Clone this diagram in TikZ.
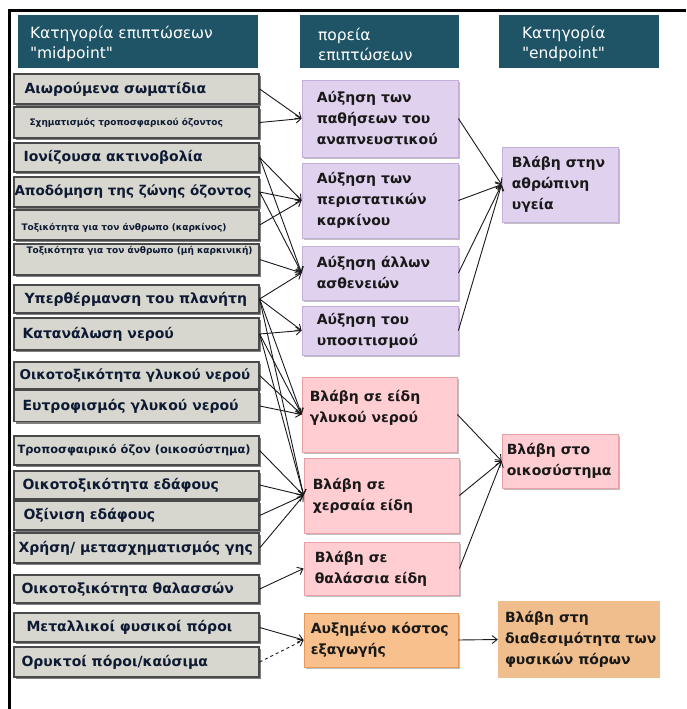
\documentclass[tikz,border=0pt]{standalone}
\usepackage{fontspec}
\setmainfont[Ligatures=TeXOff]{DejaVu Sans}
\usetikzlibrary{arrows.meta,shadows}

\definecolor{headfill}{HTML}{1F5466}
\definecolor{leftfill}{HTML}{D7D7CF}
\definecolor{leftdraw}{HTML}{4A4A4A}
\definecolor{lefttext}{HTML}{0E1A33}
\definecolor{purplefill}{HTML}{E0D2EE}
\definecolor{purpledraw}{HTML}{C4AEDB}
\definecolor{pinkfill}{HTML}{FFCDD2}
\definecolor{pinkdraw}{HTML}{E8A0A4}
\definecolor{orangefill}{HTML}{F8C08C}
\definecolor{orangedraw}{HTML}{E6975A}
\definecolor{resfill}{HTML}{F0BE8C}

\tikzset{
  headbox/.style={fill=headfill, draw=none, inner sep=0pt},
  headtxt/.style={text=white, font=\fontsize{15.5}{20}\selectfont,
    align=left, anchor=west, inner sep=0pt, yshift=-2.5pt},
  leftbox/.style={fill=leftfill, draw=leftdraw, line width=1.3pt,
    minimum width=245pt, inner sep=0pt,
    drop shadow={shadow xshift=1.5pt, shadow yshift=-2pt, opacity=0.5, fill=black}},
  lefttxt/.style={text=lefttext, anchor=west, inner sep=0pt, align=left},
  bigtxt/.style={font=\fontsize{14}{16}\selectfont\bfseries},
  bigtxtn/.style={font=\fontsize{13.5}{16}\selectfont\bfseries},
  midtxtsize/.style={font=\fontsize{11.4}{13}\selectfont\bfseries},
  smalltxt/.style={font=\fontsize{9}{11}\selectfont\bfseries},
  midbox/.style={line width=0.8pt, inner sep=0pt,
    drop shadow={shadow xshift=1.5pt, shadow yshift=-1.5pt, opacity=0.25, fill=black}},
  purplebox/.style={midbox, fill=purplefill, draw=purpledraw},
  pinkbox/.style={midbox, fill=pinkfill, draw=pinkdraw},
  orangebox/.style={midbox, fill=orangefill, draw=orangedraw},
  resbox/.style={fill=resfill, draw=none, inner sep=0pt},
  boxtxt/.style={text=black!90, anchor=west, inner sep=0pt, align=left,
    font=\fontsize{14}{21}\selectfont\bfseries},
  arr/.style={draw=black!90, line width=0.9pt,
    -{Straight Barb[length=5pt,width=8pt]}},
}

% one grey impact-category box with its label
% #1 name, #2 centre y, #3 height, #4 label indent, #5 label style, #6 label
\newcommand\leftitem[6]{%
  \node[leftbox, minimum height=#3] (#1) at (136.5,#2) {};
  \node[lefttxt, #5] (#1t) at ([xshift=#4]#1.west) {#6};}

\begin{document}
\begin{tikzpicture}[x=1pt, y=-1pt]
\useasboundingbox (0,0) rectangle (686,709);
\fill[white] (0,0) rectangle (686,709);

% outer frame (top and left edges)
\draw[line width=3pt] (9.5,709) -- (9.5,11) -- (686,11);

% column headers
\node[headbox, minimum width=240, minimum height=53] (h1) at (138,41.5) {};
\node[headtxt] (h1t) at ([xshift=12]h1.west) {Κατηγορία επιπτώσεων\\"midpoint"};
\node[headbox, minimum width=159, minimum height=53] (h2) at (379.5,41.5) {};
\node[headtxt] (h2t) at ([xshift=18]h2.west) {πορεία\\επιπτώσεων};
\node[headbox, minimum width=160, minimum height=53] (h3) at (579,41.5) {};
\node[headtxt] (h3t) at ([xshift=23]h3.west) {Κατηγορία\\"endpoint"};

% midpoint impact categories
\leftitem{m1}{89}{30}{11}{bigtxt}{Αιωρούμενα σωματίδια}
\leftitem{m2}{122.5}{31}{16}{smalltxt}{Σχηματισμός τροποσφαρικού όζοντος}
\leftitem{m3}{157.5}{29}{10}{bigtxt}{Ιονίζουσα ακτινοβολία}
\leftitem{m4}{192}{30}{1}{bigtxtn}{Αποδόμηση της ζώνης όζοντος}
\leftitem{m5}{225}{30}{8}{smalltxt, yshift=-3}{Τοξικότητα για τον άνθρωπο (καρκίνος)}
\leftitem{m6}{259.5}{31}{13}{smalltxt, yshift=9}{Τοξικότητα για τον άνθρωπο (μή καρκινική)}
\leftitem{m7}{299}{28}{11}{bigtxt}{Υπερθέρμανση του πλανήτη}
\leftitem{m8}{334}{32}{9}{bigtxt}{Κατανάλωση νερού}
\leftitem{m9}{375.5}{27}{6}{bigtxtn}{Οικοτοξικότητα γλυκού νερού}
\leftitem{m10}{406}{31}{9}{bigtxt}{Ευτροφισμός γλυκού νερού}
\leftitem{m11}{450.5}{29}{4}{midtxtsize}{Τροποσφαιρικό όζον (οικοσύστημα)}
\leftitem{m12}{485}{28}{9}{bigtxt}{Οικοτοξικότητα εδάφους}
\leftitem{m13}{515.5}{29}{10}{bigtxt}{Οξίνιση εδάφους}
\leftitem{m14}{548}{30}{5}{bigtxt}{Χρήση/ μετασχηματισμός γης}
\leftitem{m15}{589}{28}{8}{bigtxt}{Οικοτοξικότητα θαλασσών}
\leftitem{m16}{627.5}{29}{13}{bigtxt}{Μεταλλικοί φυσικοί πόροι}
\leftitem{m17}{662}{30}{8}{bigtxt}{Ορυκτοί πόροι/καύσιμα}

% damage pathways
\node[purplebox, minimum width=156, minimum height=77] (p1) at (380,118.5) {};
\node[boxtxt] (p1t) at ([xshift=15]p1.west) {Αύξηση των\\παθήσεων του\\αναπνευστικού};
\node[purplebox, minimum width=156, minimum height=75] (p2) at (380,200.5) {};
\node[boxtxt] (p2t) at ([xshift=15]p2.west) {Αύξηση των\\περιστατικών\\καρκίνου};
\node[purplebox, minimum width=156, minimum height=54] (p3) at (380,273) {};
\node[boxtxt] (p3t) at ([xshift=15]p3.west) {Αύξηση άλλων\\ασθενειών};
\node[purplebox, minimum width=156, minimum height=49] (p4) at (380,330.5) {};
\node[boxtxt] (p4t) at ([xshift=15]p4.west) {Αύξηση του\\υποσιτισμού};

\node[pinkbox, minimum width=155, minimum height=75] (r1) at (379.5,414.5) {};
\node[boxtxt, yshift=7] (r1t) at ([xshift=8]r1.west) {Βλάβη σε είδη\\γλυκού νερού};
\node[pinkbox, minimum width=155, minimum height=75] (r2) at (381.5,495.5) {};
\node[boxtxt] (r2t) at ([xshift=9]r2.west) {Βλάβη σε\\χερσαία είδη};
\node[pinkbox, minimum width=155, minimum height=53] (r3) at (381.5,568.5) {};
\node[boxtxt] (r3t) at ([xshift=11]r3.west) {Βλάβη σε\\θαλάσσια είδη};

\node[orangebox, minimum width=154, minimum height=54] (o1) at (381,640) {};
\node[boxtxt] (o1t) at ([xshift=7]o1.west) {Αυξημένο κόστος\\εξαγωγής};

% endpoint categories
\node[purplebox, minimum width=116, minimum height=75] (e1) at (560,184.5) {};
\node[boxtxt] (e1t) at ([xshift=10]e1.west) {Βλάβη στην\\αθρώπινη\\υγεία};
\node[pinkbox, minimum width=116, minimum height=54] (e2) at (560,461) {};
\node[boxtxt] (e2t) at ([xshift=5]e2.west) {Βλάβη στο\\οικοσύστημα};
\node[resbox, minimum width=162, minimum height=77] (e3) at (579,639.5) {};
\node[boxtxt] (e3t) at ([xshift=7]e3.west) {Βλάβη στη\\διαθεσιμότητα των\\φυσικών πόρων};

% midpoint -> pathway
\draw[arr] (m1.east) -- (p1.west);
\draw[arr] (m2.east) -- (p1.west);
\draw[arr] (m3.east) -- (p2.west);
\draw[arr] (m3.east) -- (p3.west);
\draw[arr] (m4.east) -- (p2.west);
\draw[arr] (m4.east) -- (p3.west);
\draw[arr] (m5.east) -- (p2.west);
\draw[arr] (m6.east) -- (p3.west);
\draw[arr] (m7.east) -- (p3.west);
\draw[arr] (m7.east) -- (p4.west);
\draw[arr] (m7.east) -- (r1.west);
\draw[arr] (m7.east) -- (r2.west);
\draw[arr] (m8.east) -- (p4.west);
\draw[arr] (m8.east) -- (r1.west);
\draw[arr] (m8.east) -- (r2.west);
\draw[arr] (m9.east) -- (r1.west);
\draw[arr] (m10.east) -- (r1.west);
\draw[arr] (m11.east) -- (r2.west);
\draw[arr] (m12.east) -- (r2.west);
\draw[arr] (m13.east) -- (r2.west);
\draw[arr] (m14.east) -- (r2.west);
\draw[arr] (m15.east) -- (r3.west);
\draw[arr] (m16.east) -- (o1.west);
\draw[arr, dashed] (m17.east) -- (o1.west);

% pathway -> endpoint
\draw[arr] (p1.east) -- (e1.west);
\draw[arr] (p2.east) -- (e1.west);
\draw[arr] (p3.east) -- (e1.west);
\draw[arr] (p4.east) -- (e1.west);
\draw[arr] (r1.east) -- (e2.west);
\draw[arr] (r2.east) -- (e2.west);
\draw[arr] (r3.east) -- (e2.west);
\draw[arr] (o1.east) -- (e3.west);
\end{tikzpicture}
\end{document}
